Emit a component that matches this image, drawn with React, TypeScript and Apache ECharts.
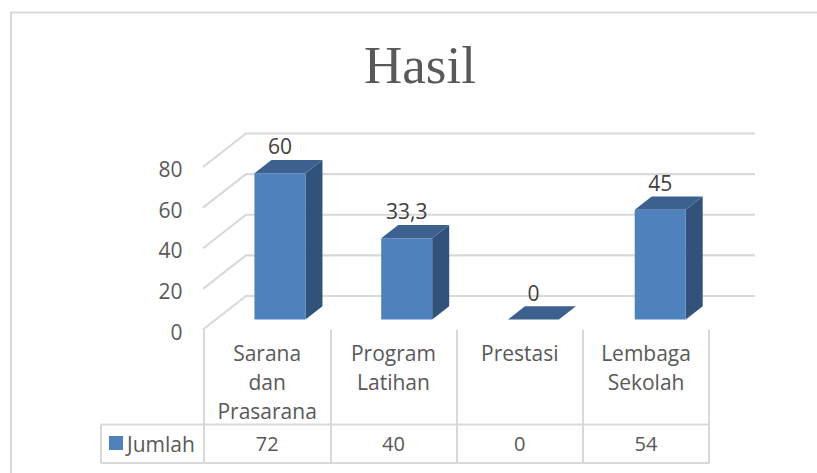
import React, { useEffect, useRef } from "react";
import * as echarts from "echarts";

const categories = ["Sarana\ndan\nPrasarana", "Program\nLatihan", "Prestasi", "Lembaga\nSekolah"];
const barValues = [72, 40, 0, 54];
const labelTexts = ["60", "33,3", "0", "45"];
const tableValues = ["72", "40", "0", "54"];
const yTicks = [0, 20, 40, 60, 80];
const seriesName = "Jumlah";
const titleText = "Hasil";

const GRID_LEFT = 204;
const GRID_RIGHT_X = 709.2;
const FRONT_TOP = 167;
const FRONT_BOTTOM = 329.5;
const WALL_DX = 43;
const WALL_DY = -33.5;
const WALL_RIGHT = 755;
const TABLE_ROW = 424.5;
const TABLE_BOTTOM = 463;
const TABLE_LEFT = 101;
const BAR_W = 51;
const BAR_SHIFT_X = 12.8;
const BAR_SPREAD = 0.45;
const BAR_SHIFT_Y = -10;
const DEPTH_X = 17;
const DEPTH_Y = -13.3;

const FONT = "'Open Sans', sans-serif";
const TEXT = "#595959";
const LINE = "#d9d9d9";

export default function App() {
  const ref = useRef<HTMLDivElement>(null);
  useEffect(() => {
    document.body.style.margin = "0";
    const chart = echarts.init(ref.current!, null, { renderer: "svg" });
    chart.setOption({
      animation: false,
      backgroundColor: "#ffffff",
      title: {
        text: titleText,
        left: 415,
        top: 33,
        textAlign: "center",
        textStyle: { fontFamily: "'Liberation Serif', serif", fontSize: 53, fontWeight: 400, color: TEXT },
      },
      grid: {
        left: GRID_LEFT,
        width: GRID_RIGHT_X - GRID_LEFT,
        top: FRONT_TOP,
        height: FRONT_BOTTOM - FRONT_TOP,
      },
      xAxis: {
        type: "category",
        data: categories,
        axisLine: { show: false },
        axisTick: { show: true, length: TABLE_BOTTOM - FRONT_BOTTOM, lineStyle: { color: LINE, width: 2 } },
        axisLabel: {
          fontFamily: FONT,
          fontSize: 21,
          color: TEXT,
          lineHeight: 29,
          margin: 9,
          interval: 0,
          verticalAlign: "top",
        },
      },
      yAxis: {
        type: "value",
        min: 0,
        max: 80,
        interval: 20,
        axisLine: { show: false },
        axisTick: { show: false },
        splitLine: { show: false },
        axisLabel: { fontFamily: FONT, fontSize: 21, color: TEXT, margin: 21.5, verticalAlign: "top", lineHeight: 4 },
      },
      graphic: [
        { type: "rect", shape: { x: 11, y: 12.5, width: 900, height: 600 }, style: { fill: "none", stroke: LINE, lineWidth: 2 }, silent: true },
        { type: "line", shape: { x1: TABLE_LEFT, y1: TABLE_ROW, x2: GRID_RIGHT_X, y2: TABLE_ROW }, style: { stroke: LINE, lineWidth: 2 } },
        { type: "line", shape: { x1: TABLE_LEFT, y1: TABLE_BOTTOM, x2: GRID_RIGHT_X, y2: TABLE_BOTTOM }, style: { stroke: LINE, lineWidth: 2 } },
        { type: "line", shape: { x1: TABLE_LEFT, y1: TABLE_ROW, x2: TABLE_LEFT, y2: TABLE_BOTTOM }, style: { stroke: LINE, lineWidth: 2 } },
        { type: "rect", shape: { x: 109, y: 436, width: 14, height: 14 }, style: { fill: "#4f81bd" } },
        { type: "text", x: 127, y: 443.5, style: { text: seriesName, fontFamily: FONT, fontSize: 21, fill: TEXT, verticalAlign: "middle", align: "left" } },
      ],
      series: [
        {
          type: "custom",
          name: "walls",
          silent: true,
          z: 1,
          data: yTicks.map((v) => [0, v]),
          encode: { x: 0, y: 1 },
          renderItem: (_p: any, api: any) => {
            const y = api.coord([0, api.value(1)])[1];
            const shape = {
              points: [
                [GRID_LEFT - 1, y],
                [GRID_LEFT - 1 + WALL_DX, y + WALL_DY],
                [WALL_RIGHT, y + WALL_DY],
              ],
            };
            return { type: "polyline", shape, style: { stroke: LINE, lineWidth: 2.2, fill: "none" } };
          },
        },
        {
          type: "custom",
          name: seriesName,
          silent: true,
          z: 3,
          data: barValues.map((v, i) => [i, v]),
          encode: { x: 0, y: 1 },
          renderItem: (_p: any, api: any) => {
            const i = api.value(0);
            const [cx, top0] = api.coord([i, api.value(1)]);
            const bottom0 = api.coord([i, 0])[1];
            const l = cx - BAR_W / 2 + BAR_SHIFT_X + i * BAR_SPREAD;
            const r = l + BAR_W;
            const t = top0 + BAR_SHIFT_Y;
            const b = bottom0 + BAR_SHIFT_Y;
            const poly = (points: number[][], fill: string) => ({ type: "polygon", shape: { points }, style: { fill } });
            const children: any[] = [
              poly([[r, t], [r + DEPTH_X, t + DEPTH_Y], [r + DEPTH_X, b + DEPTH_Y], [r, b]], "#31527b"),
              poly([[l, t], [l + DEPTH_X, t + DEPTH_Y], [r + DEPTH_X, t + DEPTH_Y], [r, t]], "#3c618f"),
            ];
            if (b - t > 0) children.push({ type: "rect", shape: { x: l, y: t, width: BAR_W, height: b - t }, style: { fill: "#4f81bd" } });
            children.push({
              type: "text",
              x: (l + r) / 2,
              y: t - 27,
              style: { text: labelTexts[i], fontFamily: FONT, fontSize: 21, fill: "#404040", align: "center", verticalAlign: "middle" },
            });
            children.push({
              type: "text",
              x: cx,
              y: (TABLE_ROW + TABLE_BOTTOM) / 2 - 0.5,
              style: { text: tableValues[i], fontFamily: FONT, fontSize: 20, fill: TEXT, align: "center", verticalAlign: "middle" },
            });
            return { type: "group", children };
          },
        },
      ],
    });
    return () => chart.dispose();
  }, []);
  return <div ref={ref} style={{ width: 817, height: 473, position: "absolute", left: 0, top: 0 }} />;
}
